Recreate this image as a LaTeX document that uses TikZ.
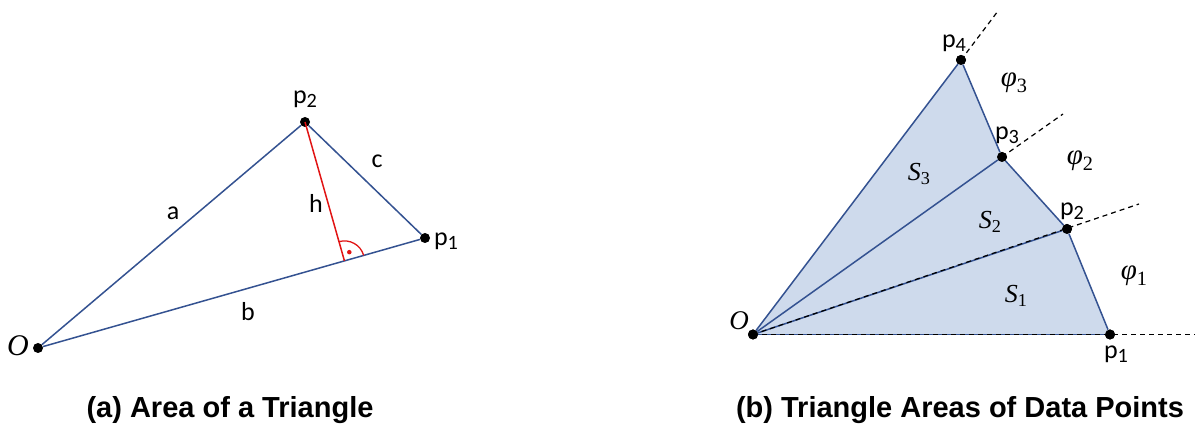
\documentclass[tikz,border=0pt]{standalone}
\usepackage{fontspec}
\setsansfont{Carlito}
\newfontfamily\capfont{Liberation Sans}
\newfontfamily\symfont{Liberation Serif}
\usetikzlibrary{calc,positioning}
\definecolor{edgeblue}{RGB}{52,82,145}
\definecolor{areablue}{RGB}{206,218,236}
\definecolor{heightred}{RGB}{225,20,20}
\newcommand{\plab}[1]{p\raisebox{-.35ex}{\scalebox{.78}{#1}}}
\newcommand{\slab}[2]{{\itshape #1}\raisebox{-.4ex}{\scalebox{.7}{#2}}}

\begin{document}
\begin{tikzpicture}[x=1pt,y=1pt]
\tikzset{
  pointnode/.style={circle,fill=black,minimum size=10pt,inner sep=0pt},
  txt/.style={font=\sffamily\fontsize{26}{28}\selectfont,inner sep=0pt},
  symtxt/.style={font=\symfont\fontsize{#1}{#1}\selectfont,inner sep=0pt},
  side/.style={draw=edgeblue,line width=1.5pt},
  ray/.style={dashed,dash pattern=on 5pt off 4pt,line width=1.2pt},
  caption/.style={font=\capfont\bfseries\fontsize{29}{32}\selectfont,inner sep=0pt}
}
\useasboundingbox (0,0) rectangle (1195,425);
% (a) area of a triangle
\node[pointnode] (a_O) at (38,77) {};
\node[pointnode] (a_p1) at (425,187) {};
\node[pointnode] (a_p2) at (305,303) {};
\coordinate (a_F) at ($(a_O)!(a_p2)!(a_p1)$);
\draw[side] (a_O) -- (a_p2);
\draw[side] (a_p2) -- (a_p1);
\draw[side] (a_O) -- (a_p1);
\draw[heightred,line width=1.5pt] (a_p2.center) -- (a_F);
\draw[heightred,line width=1.3pt] (a_F) ++(15.9:20) arc[start angle=15.9,end angle=105.9,radius=20];
\node[circle,fill=heightred,minimum size=4.5pt,inner sep=0pt] (a_dot) at ($(a_F)+(60.9:10)$) {};
\node[txt] (l_a) at (173,212) {a};
\node[txt] (l_b) at (248,113) {b};
\node[txt] (l_c) at (377,264) {c};
\node[txt] (l_h) at (316,222) {h};
\node[txt] (l_ap2) at (305,326) {\plab{2}};
\node[txt] (l_ap1) at (446,184) {\plab{1}};
\node[symtxt=30] (l_aO) at (18,79) {\itshape O};
\node[caption] (cap_a) at (230,15) {(a) Area of a Triangle};
% (b) triangle areas of data points
\node[pointnode] (b_O) at (753,90.5) {};
\node[pointnode] (b_p1) at (1110,90.5) {};
\node[pointnode] (b_p2) at (1067,196) {};
\node[pointnode] (b_p3) at (1002,268) {};
\node[pointnode] (b_p4) at (961,365) {};
\coordinate (e_1) at (1195,90.5);
\coordinate (e_2) at (1139,221);
\coordinate (e_3) at (1063,311);
\coordinate (e_4) at (998,414);
\fill[areablue] (b_O.center) -- (b_p1.center) -- (b_p2.center) -- (b_p3.center) -- (b_p4.center) -- cycle;
\draw[side] (b_O) -- (b_p1);
\draw[side] (b_O) -- (b_p2);
\draw[side] (b_O) -- (b_p3);
\draw[side] (b_O) -- (b_p4);
\draw[side] (b_p1) -- (b_p2);
\draw[side] (b_p2) -- (b_p3);
\draw[side] (b_p3) -- (b_p4);
\draw[ray] (b_O.center) -- (e_1);
\draw[ray] (b_O.center) -- (e_2);
\draw[ray] (b_p3.center) -- (e_3);
\draw[ray] (b_p4.center) -- (e_4);
\node[pointnode] at (b_O) {};
\node[pointnode] at (b_p1) {};
\node[pointnode] at (b_p2) {};
\node[pointnode] at (b_p3) {};
\node[pointnode] at (b_p4) {};
\node[txt] (l_bp4) at (954,382) {\plab{4}};
\node[txt] (l_bp3) at (1007,290) {\plab{3}};
\node[txt] (l_bp2) at (1072,214) {\plab{2}};
\node[txt] (l_bp1) at (1116,71) {\plab{1}};
\node[symtxt=27] (l_bO) at (739,104) {\itshape O};
\node[symtxt=29] (l_phi3) at (1014,342) {\slab{φ}{3}};
\node[symtxt=29] (l_phi2) at (1080,264) {\slab{φ}{2}};
\node[symtxt=29] (l_phi1) at (1134,149) {\slab{φ}{1}};
\node[symtxt=26] (l_S3) at (919,251) {\slab{S}{3}};
\node[symtxt=26] (l_S2) at (990,203) {\slab{S}{2}};
\node[symtxt=26] (l_S1) at (1016,129) {\slab{S}{1}};
\node[caption] (cap_b) at (960,15) {(b) Triangle Areas of Data Points};
\end{tikzpicture}
\end{document}
